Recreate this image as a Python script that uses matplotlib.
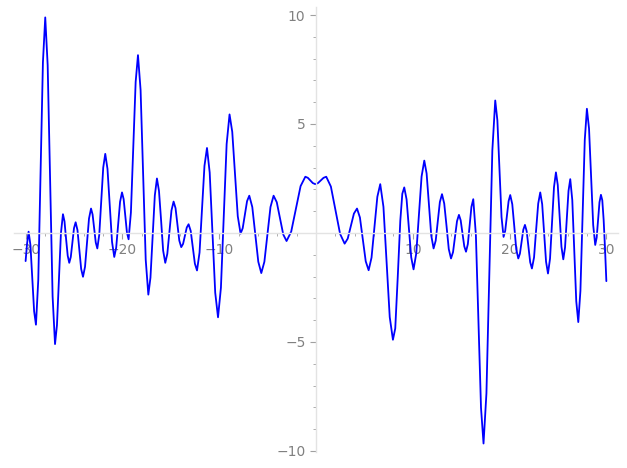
import matplotlib
matplotlib.use("Agg")
import matplotlib.pyplot as plt
from matplotlib.ticker import MultipleLocator, FixedLocator

# puntos (x, y)
x_vals = [
    -30.00, -29.85, -29.69, -29.50, -29.31, -29.12, -28.93, -28.69, -28.45, -28.21,
    -27.97, -27.72, -27.47, -27.21, -26.96, -26.76, -26.55, -26.35, -26.14, -25.98,
    -25.82, -25.65, -25.49, -25.33, -25.16, -25.00, -24.83, -24.64, -24.45, -24.26,
    -24.07, -23.86, -23.66, -23.45, -23.24, -23.08, -22.92, -22.75, -22.59, -22.39,
    -22.18, -21.98, -21.77, -21.54, -21.31, -21.07, -20.84, -20.64, -20.44, -20.24,
    -20.04, -19.87, -19.70, -19.53, -19.36, -19.12, -18.88, -18.63, -18.39, -18.12,
    -17.86, -17.59, -17.32, -17.10, -16.88, -16.65, -16.43, -16.22, -16.00, -15.79,
    -15.57, -15.36, -15.14, -14.93, -14.71, -14.51, -14.32, -14.12, -13.92, -13.73,
    -13.54, -13.35, -13.16, -12.94, -12.73, -12.51, -12.29, -12.03, -11.78, -11.52,
    -11.26, -10.98, -10.69, -10.41, -10.12, -9.82, -9.53, -9.23, -8.93, -8.65,
    -8.36, -8.08, -7.79, -7.57, -7.34, -7.12, -6.89, -6.58, -6.27, -5.96,
    -5.65, -5.33, -5.02, -4.70, -4.38, -4.05, -3.71, -3.38, -3.04, -2.56,
    -2.07, -1.59, -1.10, -0.84, -0.59, -0.33, -0.07, 0.21, 0.50, 0.78,
    1.06, 1.54, 2.01, 2.49, 2.96, 3.28, 3.60, 3.92, 4.24, 4.54,
    4.84, 5.14, 5.44, 5.74, 6.04, 6.34, 6.64, 6.97, 7.30, 7.62,
    7.95, 8.19, 8.45, 8.71, 8.92, 9.12, 9.36, 9.60, 9.84, 10.08,
    10.36, 10.64, 10.91, 11.19, 11.43, 11.67, 11.91, 12.15, 12.37, 12.59,
    12.80, 13.02, 13.25, 13.49, 13.72, 13.95, 14.16, 14.36, 14.57, 14.77,
    14.95, 15.14, 15.32, 15.50, 15.69, 15.88, 16.06, 16.25, 16.52, 16.78,
    17.05, 17.31, 17.61, 17.92, 18.22, 18.52, 18.74, 18.95, 19.17, 19.38,
    19.55, 19.73, 19.90, 20.07, 20.28, 20.49, 20.69, 20.90, 21.07, 21.25,
    21.42, 21.59, 21.77, 21.95, 22.13, 22.31, 22.53, 22.74, 22.96, 23.17,
    23.37, 23.57, 23.77, 23.97, 24.18, 24.38, 24.59, 24.79, 24.98, 25.17,
    25.36, 25.55, 25.73, 25.91, 26.09, 26.27, 26.48, 26.69, 26.89, 27.10,
    27.32, 27.55, 27.77, 27.99, 28.21, 28.42, 28.64, 28.85, 29.00, 29.15,
    29.29, 29.44, 29.58, 29.72, 29.86, 30.00,
]
y_vals = [
    -1.29, -0.50, 0.06, -0.56, -2.08, -3.59, -4.21, -2.15, 2.84, 7.83,
    9.89, 7.70, 2.39, -2.91, -5.10, -4.23, -2.12, -0.01, 0.86, 0.53,
    -0.26, -1.04, -1.37, -1.10, -0.44, 0.22, 0.49, 0.13, -0.76, -1.65,
    -2.01, -1.55, -0.45, 0.66, 1.12, 0.85, 0.21, -0.44, -0.71, -0.08,
    1.46, 3.00, 3.63, 2.94, 1.27, -0.41, -1.10, -0.67, 0.38, 1.43,
    1.86, 1.55, 0.79, 0.02, -0.29, 0.94, 3.94, 6.93, 8.16, 6.56,
    2.67, -1.23, -2.83, -2.05, -0.17, 1.72, 2.50, 1.93, 0.57, -0.81,
    -1.37, -0.96, 0.04, 1.03, 1.44, 1.14, 0.40, -0.35, -0.65, -0.50,
    -0.13, 0.25, 0.40, 0.09, -0.66, -1.41, -1.72, -0.90, 1.09, 3.08,
    3.90, 2.77, 0.02, -2.74, -3.87, -2.51, 0.79, 4.08, 5.44, 4.64,
    2.71, 0.77, -0.03, 0.22, 0.84, 1.46, 1.71, 1.19, -0.07, -1.32,
    -1.84, -1.32, -0.07, 1.19, 1.71, 1.41, 0.67, -0.07, -0.37, 0.06,
    1.11, 2.15, 2.58, 2.53, 2.41, 2.29, 2.24, 2.29, 2.41, 2.53,
    2.58, 2.13, 1.05, -0.04, -0.49, -0.26, 0.32, 0.89, 1.12, 0.71,
    -0.30, -1.30, -1.71, -1.13, 0.27, 1.66, 2.24, 1.20, -1.33, -3.86,
    -4.90, -4.38, -2.00, 0.55, 1.80, 2.09, 1.54, 0.21, -1.12, -1.67,
    -0.94, 0.83, 2.59, 3.32, 2.73, 1.31, -0.12, -0.71, -0.35, 0.54,
    1.42, 1.78, 1.35, 0.31, -0.74, -1.17, -0.88, -0.17, 0.54, 0.83,
    0.58, -0.02, -0.61, -0.86, -0.51, 0.35, 1.20, 1.55, -0.09, -4.06,
    -8.02, -9.66, -7.36, -1.79, 3.78, 6.08, 5.17, 2.95, 0.73, -0.18,
    0.10, 0.78, 1.46, 1.74, 1.32, 0.29, -0.75, -1.17, -0.95, -0.40,
    0.15, 0.37, 0.08, -0.63, -1.34, -1.63, -1.12, 0.12, 1.35, 1.86,
    1.32, 0.00, -1.32, -1.86, -1.18, 0.46, 2.10, 2.78, 2.20, 0.79,
    -0.63, -1.21, -0.67, 0.63, 1.93, 2.47, 1.51, -0.81, -3.13, -4.09,
    -2.66, 0.81, 4.27, 5.70, 4.79, 2.58, 0.36, -0.55, -0.21, 0.60,
    1.41, 1.75, 1.50, 0.60, -0.70, -2.21,
]

x_ticks = [-30, -20, -10, 10, 20, 30]
y_ticks = [-10, -5, 5, 10]

fig = plt.figure(figsize=(6.27, 4.68), dpi=100)
ax = fig.add_axes([0.0223, 0.0342, 0.9633, 0.950])

ax.plot(x_vals, y_vals, color="blue", lw=1.3,
        solid_joinstyle="round", solid_capstyle="round")

ax.set_xlim(-31.2, 31.2)
ax.set_ylim(-10.05, 10.35)

for lado in ["top", "right"]:
    ax.spines[lado].set_visible(False)
for lado in ["left", "bottom"]:
    ax.spines[lado].set_position("zero")
    ax.spines[lado].set_color("#e3e3e3")
    ax.spines[lado].set_linewidth(1.0)

ax.xaxis.set_major_locator(FixedLocator(x_ticks))
ax.yaxis.set_major_locator(FixedLocator(y_ticks))
ax.xaxis.set_minor_locator(MultipleLocator(2))
ax.yaxis.set_minor_locator(MultipleLocator(1))
ax.set_xticklabels(["\u2212%d" % -t if t < 0 else str(t) for t in x_ticks])
ax.set_yticklabels(["\u2212%d" % -t if t < 0 else str(t) for t in y_ticks])

ax.tick_params(which="both", colors="#a0a0a0", labelcolor="#808080", labelsize=10)
ax.tick_params(which="major", length=4)
ax.tick_params(which="minor", length=2)

fig.savefig("out.png", dpi=100)
